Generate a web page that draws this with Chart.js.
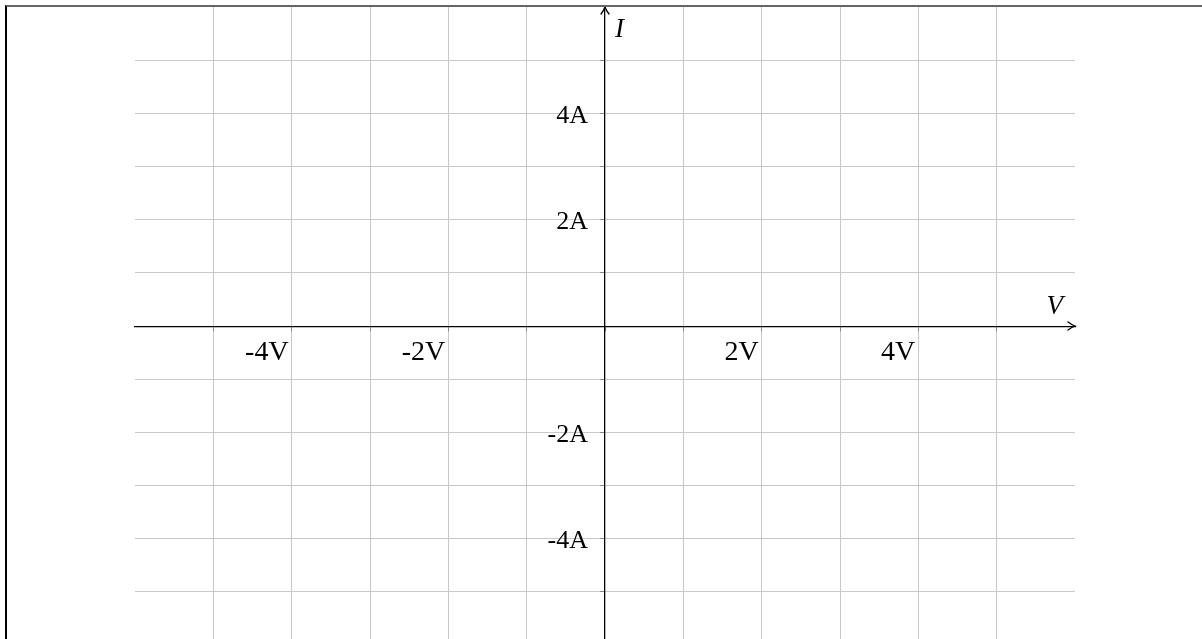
<!doctype html>
<html lang="en">
  <head>
    <meta charset="UTF-8" />
    <title>I-V axes</title>
    <style>
      html, body { margin: 0; padding: 0; background: #fff; overflow: hidden; }
      #wrap { position: relative; width: 1202px; height: 639px; overflow: hidden; }
      #frame {
        position: absolute; left: 5px; top: 5px; right: 0; bottom: -10px;
        border-top: 2px solid #666; border-left: 2px solid #000;
        pointer-events: none;
      }
      /* the chart area starts 28px into the canvas, shift it up so it sits under the frame */
      canvas { position: absolute; left: 0; top: -21px; }
    </style>
  </head>

  <body>
    <div id="wrap">
      <canvas id="chart" width="1202" height="694"></canvas>
      <div id="frame"></div>
    </div>

    <script src="https://cdn.jsdelivr.net/npm/chart.js@4"></script>

    <script>
      // axis ranges (volts / amps)
      const xRange = [-6, 6]
      const yRange = [-6, 6]
      // labelled ticks
      const xLabelled = [-4, -2, 2, 4]
      const yLabelled = [-4, -2, 2, 4]
      const xUnit = 'V'
      const yUnit = 'A'
      const xTitle = 'V'
      const yTitle = 'I'

      const GRID = '#c8c8c8'
      const SERIF = "'Liberation Serif', 'DejaVu Serif', serif"

      // grid only on whole units strictly inside the range, not on the axes
      const gridColor = (range) => (c) => {
        const v = c.tick && c.tick.value
        if (v === undefined || v === 0 || v <= range[0] || v >= range[1]) return 'rgba(0,0,0,0)'
        return GRID
      }

      const tickText = (list, unit, range) => (v) => {
        if (v <= range[0] || v >= range[1]) return null
        return list.includes(v) ? v + unit : ''
      }

      // arrow heads and axis letters
      const axisDecor = {
        id: 'axisDecor',
        afterDraw(chart) {
          const { ctx, scales: { x, y } } = chart
          const x0 = x.getPixelForValue(0)
          const y0 = y.getPixelForValue(0)
          const xEnd = x.getPixelForValue(xRange[1])
          const yEnd = y.getPixelForValue(yRange[1])

          ctx.save()
          ctx.strokeStyle = '#000'
          ctx.lineWidth = 1.3
          ctx.lineCap = 'round'
          // right arrow
          ctx.beginPath()
          ctx.moveTo(xEnd - 7, y0 - 4)
          ctx.quadraticCurveTo(xEnd - 3, y0 - 1, xEnd, y0)
          ctx.quadraticCurveTo(xEnd - 3, y0 + 1, xEnd - 7, y0 + 4)
          ctx.stroke()
          // up arrow
          ctx.beginPath()
          ctx.moveTo(x0 - 4, yEnd + 7)
          ctx.quadraticCurveTo(x0 - 1, yEnd + 3, x0, yEnd)
          ctx.quadraticCurveTo(x0 + 1, yEnd + 3, x0 + 4, yEnd + 7)
          ctx.stroke()

          ctx.fillStyle = '#000'
          ctx.font = 'italic 27px ' + SERIF
          ctx.textBaseline = 'alphabetic'
          ctx.textAlign = 'right'
          ctx.fillText(xTitle, xEnd - 12, y0 - 12)
          ctx.textAlign = 'left'
          ctx.fillText(yTitle, x0 + 10, yEnd + 30)
          ctx.restore()
        },
      }

      new Chart(document.getElementById('chart'), {
        type: 'scatter',
        data: { datasets: [] },
        plugins: [axisDecor],
        options: {
          responsive: false,
          animation: false,
          events: [],
          layout: { padding: { left: 135, right: 127, top: 0, bottom: 0 } },
          plugins: { legend: { display: false }, tooltip: { enabled: false } },
          scales: {
            x: {
              type: 'linear',
              position: 'center',
              min: xRange[0],
              max: xRange[1],
              border: { display: true, color: '#000', width: 1.3 },
              grid: { color: gridColor(xRange), lineWidth: 1, tickLength: 4, tickColor: '#888' },
              ticks: {
                stepSize: 1,
                autoSkip: false,
                maxRotation: 0,
                align: 'end',
                labelOffset: -3,
                padding: 6,
                color: '#000',
                font: { family: SERIF, size: 28 },
                callback: tickText(xLabelled, xUnit, xRange),
              },
            },
            y: {
              type: 'linear',
              position: 'center',
              min: yRange[0],
              max: yRange[1],
              border: { display: true, color: '#000', width: 1.3 },
              grid: { color: gridColor(yRange), lineWidth: 1, tickLength: 4, tickColor: '#888' },
              ticks: {
                stepSize: 1,
                autoSkip: false,
                labelOffset: 3,
                padding: 13,
                color: '#000',
                font: { family: SERIF, size: 26, lineHeight: '30px' },
                callback: tickText(yLabelled, yUnit, yRange),
              },
            },
          },
        },
      })
    </script>
  </body>
</html>
